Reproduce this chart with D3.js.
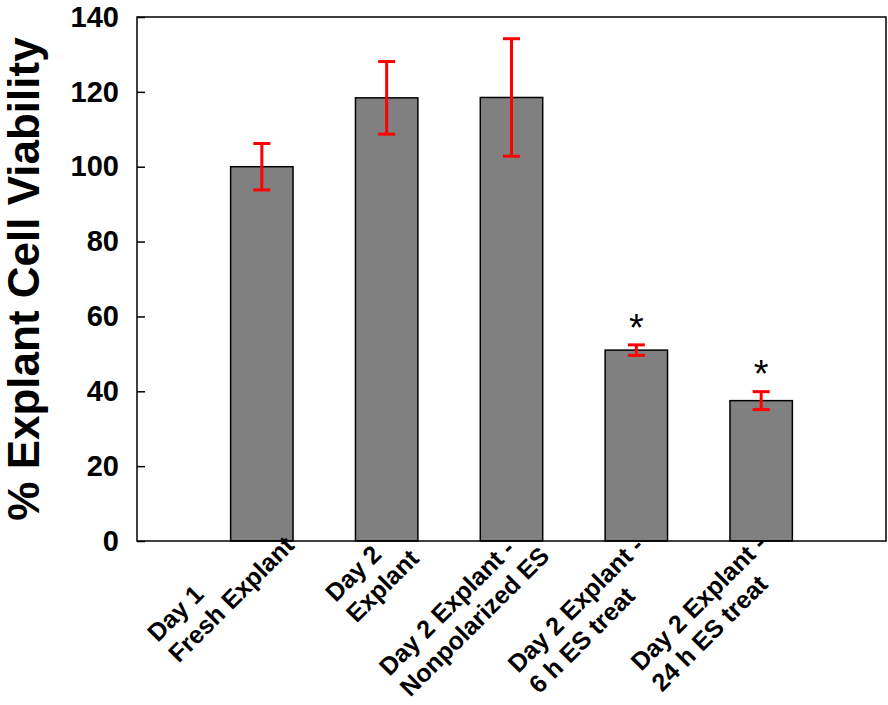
<!DOCTYPE html>
<html>
<head>
<meta charset="utf-8">
<script src="https://cdn.jsdelivr.net/npm/d3@7"></script>
<style>
  html, body { margin: 0; padding: 0; background: #fff; }
  svg { display: block; font-family: "Liberation Sans", Arial, sans-serif; }
</style>
</head>
<body>
<svg id="chart" width="888" height="705"></svg>
<script>
// ---- data ----
const categories = [
  ["Day 1", "Fresh Explant"],
  ["Day 2", "Explant"],
  ["Day 2 Explant -", "Nonpolarized ES"],
  ["Day 2 Explant -", "6 h ES treat"],
  ["Day 2 Explant -", "24 h ES treat"]
];
const values = [100, 118.4, 118.5, 51.0, 37.5];
const errors = [6.2, 9.7, 15.7, 1.4, 2.4];
const significant = [false, false, false, true, true];
const yTicks = [0, 20, 40, 60, 80, 100, 120, 140];
const yTitle = "% Explant Cell Viability";

// ---- layout ----
const W = 888, H = 705;
const plot = { left: 137, right: 886, top: 17, bottom: 541 };
// label anchor nudges (baseline start of first line, relative to category centre / axis)
const labelNudge = [[-104, 102], [-51, 62], [-122, 136], [-118, 133], [-120, 131]];

const svg = d3.select("#chart");

const x = d3.scaleBand()
  .domain(d3.range(categories.length))
  .range([plot.left, plot.right])
  .paddingInner(0.5)
  .paddingOuter(0.75);

const y = d3.scaleLinear().domain([0, 140]).range([plot.bottom, plot.top]);

// bars
svg.append("g").selectAll("rect")
  .data(values)
  .join("rect")
  .attr("x", (d, i) => x(i))
  .attr("y", d => y(d))
  .attr("width", x.bandwidth())
  .attr("height", d => y(0) - y(d))
  .attr("fill", "#808080")
  .attr("stroke", "#000")
  .attr("stroke-width", 1.5);

// error bars
const capW = 17;
const eb = svg.append("g").attr("stroke", "#ff0000").attr("stroke-width", 3);
values.forEach((v, i) => {
  const cx = x(i) + x.bandwidth() / 2;
  const lo = y(v - errors[i]), hi = y(v + errors[i]);
  eb.append("line").attr("x1", cx).attr("x2", cx).attr("y1", lo).attr("y2", hi);
  eb.append("line").attr("x1", cx - capW / 2).attr("x2", cx + capW / 2).attr("y1", hi).attr("y2", hi);
  eb.append("line").attr("x1", cx - capW / 2).attr("x2", cx + capW / 2).attr("y1", lo).attr("y2", lo);
});

// significance stars
const starSize = 38;
svg.append("g").selectAll("text")
  .data(values.map((v, i) => ({ v, i })).filter(d => significant[d.i]))
  .join("text")
  .attr("x", d => x(d.i) + x.bandwidth() / 2)
  .attr("y", d => y(d.v + errors[d.i]) - 26 + 0.57 * starSize)
  .attr("text-anchor", "middle")
  .attr("font-size", starSize)
  .attr("fill", "#000")
  .text("*");

// y axis ticks (inside) and labels
const yAxis = d3.axisLeft(y).tickValues(yTicks).tickSize(-8).tickPadding(18);
const gy = svg.append("g").attr("transform", `translate(${plot.left},0)`).call(yAxis);
gy.select(".domain").remove();
gy.selectAll(".tick line").attr("stroke", "#000").attr("stroke-width", 1.5);
gy.selectAll(".tick text")
  .attr("font-family", "Liberation Sans, Arial, sans-serif")
  .attr("font-size", 29)
  .attr("font-weight", "bold")
  .attr("fill", "#000");

// frame
svg.append("rect")
  .attr("x", plot.left).attr("y", plot.top)
  .attr("width", plot.right - plot.left).attr("height", plot.bottom - plot.top)
  .attr("fill", "none").attr("stroke", "#000").attr("stroke-width", 1.5);

// x labels (rotated, left-aligned two-line blocks)
const labelSize = 25, lineH = 29.5;
categories.forEach((lines, i) => {
  const cx = x(i) + x.bandwidth() / 2;
  const g = svg.append("g")
    .attr("transform", `translate(${cx + labelNudge[i][0]},${plot.bottom + labelNudge[i][1]}) rotate(-45)`);
  lines.forEach((t, k) => {
    g.append("text")
      .attr("x", 0).attr("y", k * lineH)
      .attr("font-size", labelSize)
      .attr("font-weight", "bold")
      .attr("fill", "#000")
      .text(t);
  });
});

// y title
svg.append("text")
  .attr("transform", `translate(39,${(plot.top + plot.bottom) / 2}) rotate(-90)`)
  .attr("text-anchor", "middle")
  .attr("font-size", 44)
  .attr("font-weight", "bold")
  .attr("fill", "#000")
  .text(yTitle);
</script>
</body>
</html>
